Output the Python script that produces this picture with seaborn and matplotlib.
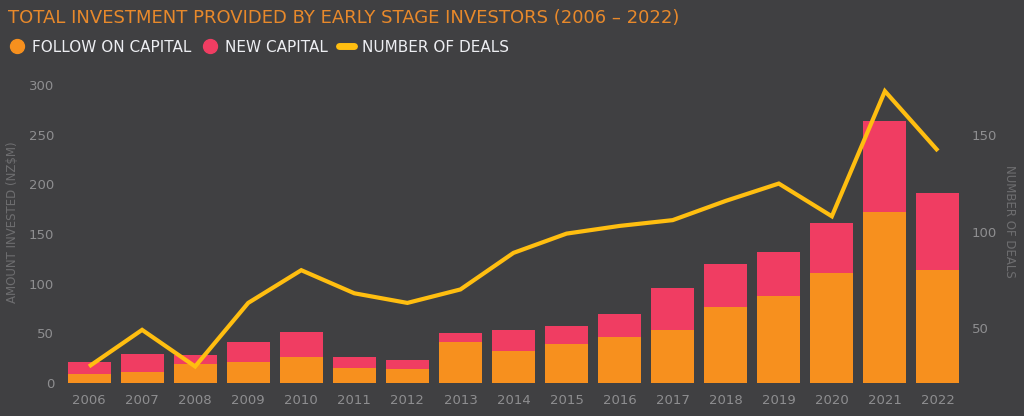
import numpy as np
import pandas as pd
import matplotlib
matplotlib.use("Agg")
import matplotlib.pyplot as plt
from matplotlib.lines import Line2D
import seaborn as sns

# ---------------------------------------------------------------------------
# Data
# ---------------------------------------------------------------------------
years = ["2006", "2007", "2008", "2009", "2010", "2011", "2012", "2013", "2014",
         "2015", "2016", "2017", "2018", "2019", "2020", "2021", "2022"]
follow_on = [9, 11, 19, 21, 26, 15, 14, 41, 32, 39, 46, 53, 77, 88, 111, 172, 114]
new_capital = [12, 18, 9, 20, 25, 11, 9, 9, 21, 18, 23, 43, 43, 44, 50, 92, 77]
deals = [30, 49, 30, 63, 80, 68, 63, 70, 89, 99, 103, 106, 116, 125, 108, 173, 142]

left_ticks = [0, 50, 100, 150, 200, 250, 300]
right_ticks = [50, 100, 150]

# ---------------------------------------------------------------------------
# Style
# ---------------------------------------------------------------------------
BG = "#404042"
ORANGE = "#F7901E"
PINK = "#F03D62"
YELLOW = "#FFBE10"
TICK_GREY = "#8E8E90"
LABEL_GREY = "#6E6E70"
TITLE_ORANGE = "#E8892B"
LEGEND_WHITE = "#EDEEF2"

sns.set_theme(style="white")
plt.rcParams["font.family"] = ["DejaVu Sans"]

df = pd.DataFrame({
    "year": years,
    "follow_on": follow_on,
    "new_capital": new_capital,
    "deals": deals,
})
df["total"] = df["follow_on"] + df["new_capital"]
df["pos"] = np.arange(len(df))

fig = plt.figure(figsize=(10.24, 4.16), dpi=100, facecolor=BG)
ax = fig.add_axes([62.5 / 1024, 1 - 383 / 416, 902 / 1024, 298 / 416])
ax.set_facecolor(BG)

# stacked bars: total (pink) underneath, follow-on (orange) on top of it
sns.barplot(data=df, x="year", y="total", color=PINK, saturation=1,
            width=0.81, ax=ax, linewidth=0)
sns.barplot(data=df, x="year", y="follow_on", color=ORANGE, saturation=1,
            width=0.81, ax=ax, linewidth=0)

ax.set_ylim(0, 300)
ax.set_yticks(left_ticks)
ax.set_xlim(-0.5, len(years) - 0.5)
ax.set_xlabel("")
ax.set_ylabel("AMOUNT INVESTED (NZ$M)", color=LABEL_GREY, fontsize=8.5,
              va="center")
ax.yaxis.set_label_coords(-0.0549, 0.54)
ax.tick_params(axis="both", colors=TICK_GREY, labelsize=9.5, length=0)
ax.tick_params(axis="x", pad=8)
ax.tick_params(axis="y", pad=6)
for s in ax.spines.values():
    s.set_visible(False)

# number of deals on secondary axis
ax2 = ax.twinx()
sns.lineplot(data=df, x="pos", y="deals", color=YELLOW, linewidth=3,
             ax=ax2, solid_capstyle="butt", solid_joinstyle="miter")
ax2.set_ylim(21.4, 176.2)
ax2.set_yticks(right_ticks)
ax2.set_xlim(-0.5, len(years) - 0.5)
ax2.set_ylabel("NUMBER OF DEALS", color=LABEL_GREY, fontsize=8.5,
               rotation=-90, va="center")
ax2.yaxis.set_label_coords(1.0504, 0.544)
ax2.tick_params(axis="y", colors=TICK_GREY, labelsize=9.5, length=0, pad=5)
for s in ax2.spines.values():
    s.set_visible(False)
ax2.grid(False)
ax.grid(False)

# title and legend
fig.text(8 / 1024, 1 - 23 / 416,
         "TOTAL INVESTMENT PROVIDED BY EARLY STAGE INVESTORS (2006 \u2013 2022)",
         color=TITLE_ORANGE, fontsize=13, va="baseline", ha="left")

handles = [
    Line2D([], [], marker="o", linestyle="", markersize=10,
           markerfacecolor=ORANGE, markeredgecolor=ORANGE),
    Line2D([], [], marker="o", linestyle="", markersize=10,
           markerfacecolor=PINK, markeredgecolor=PINK),
    Line2D([], [], color=YELLOW, linewidth=5, solid_capstyle="round"),
]
labels = ["FOLLOW ON CAPITAL", "NEW CAPITAL", "NUMBER OF DEALS"]
fig.legend(handles, labels, loc="center left",
           bbox_to_anchor=(0.0, 1 - 47 / 416), ncol=3, frameon=False,
           fontsize=11, labelcolor=LEGEND_WHITE, handlelength=1.0,
           handletextpad=0.5, columnspacing=0.7, borderaxespad=0.2)

fig.savefig("out.png", dpi=100, facecolor=BG)
